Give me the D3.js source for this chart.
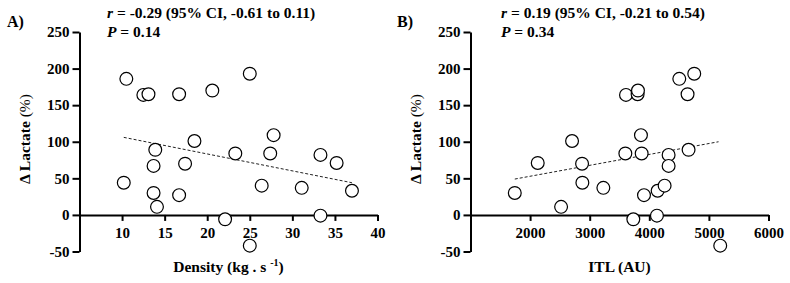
<!DOCTYPE html>
<html><head><meta charset="utf-8">
<script src="https://cdn.jsdelivr.net/npm/d3@7"></script>
<style>body{margin:0;background:#fff}svg{display:block}text{font-family:"Liberation Serif","Times New Roman",serif}</style>
</head><body><div id="chart"></div>
<script>
// Panel A: Density vs Δ Lactate
const densityX = [10.5,12.5,13.1,16.7,20.6,25.0,18.5,13.9,13.7,17.4,10.2,13.7,16.7,14.1,22.1,23.3,27.4,27.8,26.4,25.0,31.1,33.3,35.2,37.0,33.3];
const densityY = [186,164,165,165,170,193,101,89,67,70,44,30,27,11,-6,84,84,109,40,-42,37,82,71,33,-1];
const fitA_X = [10.2, 37.0];
const fitA_Y = [106, 44];
// Panel B: ITL vs Δ Lactate
const itlX = [1743,2128,2704,2520,2872,2877,3229,3598,3609,3804,3810,3860,3872,3911,3732,4128,4140,4257,4324,4324,4503,4642,4754,4659,5190];
const itlY = [30,71,101,11,70,44,37,84,164,165,170,109,84,27,-6,-1,33,40,82,67,186,165,193,89,-42];
const fitB_X = [1743, 5162];
const fitB_Y = [49, 100];
// ticks
const yTicks = [-50,0,50,100,150,200,250];
const xTicksA = [10,15,20,25,30,35,40];
const xTicksB = [2000,3000,4000,5000,6000];
const panelLabels = ["A)","B)"];
const statsR = ["= -0.29 (95% CI, -0.61 to 0.11)","= 0.19 (95% CI, -0.21 to 0.54)"];
const statsP = ["= 0.14","= 0.34"];

const W=790,H=283;
const svg=d3.select("#chart").append("svg").attr("width",W).attr("height",H);

const panels=[
  {x:d3.scaleLinear().domain([5,40]).range([79.5,377.5]), xs:densityX, ys:densityY, fx:fitA_X, fy:fitA_Y, ticks:xTicksA, lab:panelLabels[0], labX:7, statX:107, r:statsR[0], p:statsP[0], xlab:"A"},
  {x:d3.scaleLinear().domain([1000,6000]).range([470.5,768.5]), xs:itlX, ys:itlY, fx:fitB_X, fy:fitB_Y, ticks:xTicksB, lab:panelLabels[1], labX:397, statX:501, r:statsR[1], p:statsP[1], xlab:"B"}
];
const y=d3.scaleLinear().domain([-50,250]).range([251.5,32]);
const fmt=d=>String(d);

panels.forEach(P=>{
  const g=svg.append("g");
  const ya=g.append("g").attr("transform",`translate(${P.x.range()[0]},0)`)
    .call(d3.axisLeft(y).tickValues(yTicks).tickFormat(fmt).tickSize(7).tickSizeOuter(0).tickPadding(3));
  const xa=g.append("g").attr("transform",`translate(0,${y(0)})`)
    .call(d3.axisBottom(P.x).tickValues(P.ticks).tickFormat(fmt).tickSize(6).tickSizeOuter(0).tickPadding(6));
  [ya,xa].forEach(a=>{
    a.select(".domain").attr("stroke","#000").attr("stroke-width",2);
    a.selectAll(".tick line").attr("stroke","#000").attr("stroke-width",2);
    a.selectAll(".tick text").attr("fill","#000").style("font-size","15px").style("font-weight","bold").style("font-family","Liberation Serif");
  });
  g.append("line").attr("x1",P.x(P.fx[0])).attr("y1",y(P.fy[0])).attr("x2",P.x(P.fx[1])).attr("y2",y(P.fy[1]))
    .attr("stroke","#222").attr("stroke-width",1).attr("stroke-dasharray","3,2");
  g.selectAll("circle").data(P.xs.map((v,i)=>[v,P.ys[i]])).enter().append("circle")
    .attr("cx",d=>P.x(d[0])).attr("cy",d=>y(d[1])).attr("r",6.4)
    .attr("fill","#fff").attr("stroke","#000").attr("stroke-width",1.2);
  g.append("text").attr("x",P.labX).attr("y",27).text(P.lab).style("font-size","16px").style("font-weight","bold");
  const t1=g.append("text").attr("x",P.statX).attr("y",18).style("font-size","15.5px").style("font-weight","bold");
  t1.append("tspan").style("font-style","italic").text("r");
  t1.append("tspan").text(" "+P.r);
  const t2=g.append("text").attr("x",P.statX).attr("y",37).style("font-size","15.5px").style("font-weight","bold");
  t2.append("tspan").style("font-style","italic").text("P");
  t2.append("tspan").text(" "+P.p);
  const cx=P.x.range()[0]-50;
  const yl=g.append("text").attr("transform",`translate(${cx},139) rotate(-90)`).attr("text-anchor","middle").style("font-size","15.5px");
  yl.append("tspan").style("font-weight","bold").text("Δ Lactate ");
  yl.append("tspan").style("font-weight","normal").text("(%)");
  const xm=(P.x.range()[0]+P.x.range()[1])/2;
  const xl=g.append("text").attr("x",xm).attr("y",272).attr("text-anchor","middle").style("font-size","15.5px").style("font-weight","bold");
  if(P.xlab==="A"){
    xl.append("tspan").text("Density (kg . s ");
    xl.append("tspan").attr("dy",-6).style("font-size","10px").text("-1");
    xl.append("tspan").attr("dy",6).text(")");
  } else {
    xl.text("ITL (AU)");
  }
});
</script></body></html>
